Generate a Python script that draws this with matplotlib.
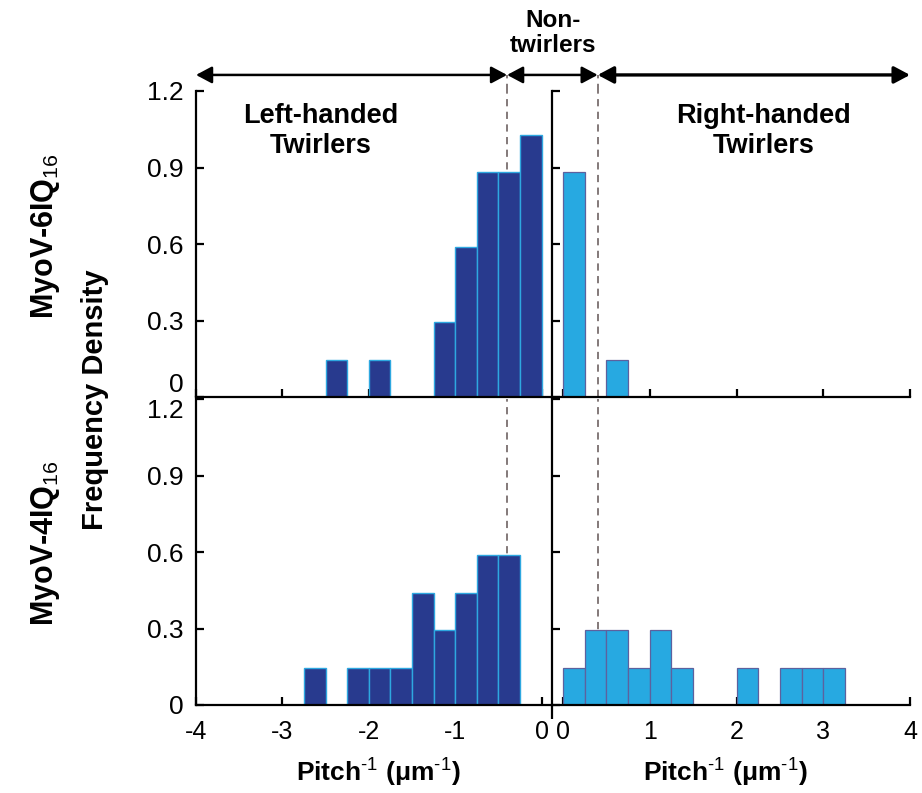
import numpy as np
import matplotlib.pyplot as plt

plt.rcParams['font.family'] = ['Liberation Sans', 'DejaVu Sans']
plt.rcParams['mathtext.fontset'] = 'custom'
plt.rcParams['mathtext.rm'] = 'Liberation Sans'
plt.rcParams['mathtext.bf'] = 'Liberation Sans:bold'

# Data (bin left edges, width 0.25)
bin_w = 0.25
top_left_bins = [-2.5, -2.0, -1.25, -1.0, -0.75, -0.5, -0.25]
top_left_vals = [0.147, 0.147, 0.294, 0.588, 0.882, 0.882, 1.029]
top_right_bins = [0.0, 0.5]
top_right_vals = [0.882, 0.147]
bot_left_bins = [-2.75, -2.25, -2.0, -1.75, -1.5, -1.25, -1.0, -0.75, -0.5]
bot_left_vals = [0.147, 0.147, 0.147, 0.147, 0.441, 0.294, 0.441, 0.588, 0.588]
bot_right_bins = [0.0, 0.25, 0.5, 0.75, 1.0, 1.25, 2.0, 2.5, 2.75, 3.0]
bot_right_vals = [0.147, 0.294, 0.294, 0.147, 0.294, 0.147, 0.147, 0.147, 0.147, 0.147]

yticks = [0, 0.3, 0.6, 0.9, 1.2]
ytick_labels = ["0", "0.3", "0.6", "0.9", "1.2"]
left_xticks = [-4, -3, -2, -1, 0]
right_xticks = [0, 1, 2, 3, 4]
cutoff = 0.4

dark = '#283a8e'
dark_edge = '#2ea8e0'
light = '#27a9e1'
light_edge = '#5d619e'
dash_col = '#7a6e6e'

W, H = 922, 793
fig = plt.figure(figsize=(W / 100, H / 100), dpi=100)

def px_rect(x0, x1, ytop, ybot):
    return [x0 / W, 1 - ybot / H, (x1 - x0) / W, (ybot - ytop) / H]

ax_tl = fig.add_axes(px_rect(196, 552, 91, 397))
ax_tr = fig.add_axes(px_rect(552, 910, 91, 397))
ax_bl = fig.add_axes(px_rect(196, 552, 399, 705))
ax_br = fig.add_axes(px_rect(552, 910, 399, 705))

for ax, side in [(ax_tl, 'L'), (ax_tr, 'R'), (ax_bl, 'L'), (ax_br, 'R')]:
    ax.set_facecolor('none')
    ax.set_ylim(0, 1.2)
    if side == 'L':
        ax.set_xlim(-4, 0.12)
        ax.set_xticks(left_xticks)
        ax.set_xticklabels([str(t) for t in left_xticks])
        ax.set_yticks(yticks)
        ax.set_yticklabels(ytick_labels)
        ax.axvline(-cutoff, color=dash_col, lw=1.3, ls=(0, (4, 3)), zorder=0)
    else:
        ax.set_xlim(-0.127, 4)
        ax.set_xticks(right_xticks)
        ax.set_xticklabels([str(t) for t in right_xticks])
        ax.set_yticks(yticks)
        ax.tick_params(axis='y', labelleft=False)
        ax.axvline(cutoff, color=dash_col, lw=1.3, ls=(0, (4, 3)), zorder=0)
    for s in ['top', 'right']:
        ax.spines[s].set_visible(False)
    for s in ['left', 'bottom']:
        ax.spines[s].set_linewidth(1.6)
    ax.tick_params(direction='in', length=6, width=1.6)
    ax.tick_params(axis='y', pad=9, labelsize=19)
    ax.tick_params(axis='x', pad=11, labelsize=18)

for ax in (ax_tl, ax_tr):
    ax.tick_params(axis='x', labelbottom=False)

# keep the "0" of the top panel and "1.2" of the bottom panel apart
ax_tl.get_yticklabels()[0].set_va('bottom')
ax_bl.get_yticklabels()[-1].set_va('top')

ax_tl.bar(top_left_bins, top_left_vals, width=bin_w, align='edge',
          color=dark, edgecolor=dark_edge, lw=1.0, zorder=2)
ax_tr.bar(top_right_bins, top_right_vals, width=bin_w, align='edge',
          color=light, edgecolor=light_edge, lw=0.9, zorder=2)
ax_bl.bar(bot_left_bins, bot_left_vals, width=bin_w, align='edge',
          color=dark, edgecolor=dark_edge, lw=1.0, zorder=2)
ax_br.bar(bot_right_bins, bot_right_vals, width=bin_w, align='edge',
          color=light, edgecolor=light_edge, lw=0.9, zorder=2)

# divider line runs a little below the bottom axis
ax_br.plot([-0.127, -0.127], [0, -0.055], color='black', lw=1.6,
           clip_on=False, solid_capstyle='butt')

# dashed lines continue up to the arrows
arrow_y = 1.263
ax_tl.plot([-cutoff, -cutoff], [1.2, arrow_y], color=dash_col, lw=1.3,
           ls=(0, (4, 3)), clip_on=False, zorder=0)
ax_tr.plot([cutoff, cutoff], [1.2, arrow_y], color=dash_col, lw=1.3,
           ls=(0, (4, 3)), clip_on=False, zorder=0)

# arrows
astyle = '<|-|>,head_length=0.6,head_width=0.32'
ax_tl.annotate('', xy=(-4, arrow_y), xytext=(-cutoff, arrow_y),
               xycoords='data', textcoords='data', annotation_clip=False,
               arrowprops=dict(arrowstyle=astyle, color='black', lw=1.8,
                               mutation_scale=16, shrinkA=0, shrinkB=0))
ax_tl.annotate('', xy=(cutoff, arrow_y), xycoords=ax_tr.transData,
               xytext=(-cutoff, arrow_y), textcoords=ax_tl.transData,
               annotation_clip=False,
               arrowprops=dict(arrowstyle=astyle, color='black', lw=1.8,
                               mutation_scale=16, shrinkA=0, shrinkB=0))
ax_tr.annotate('', xy=(4, arrow_y), xytext=(cutoff, arrow_y),
               xycoords='data', textcoords='data', annotation_clip=False,
               arrowprops=dict(arrowstyle=astyle, color='black', lw=2.4,
                               mutation_scale=16, shrinkA=0, shrinkB=0))

ax_tl.text(-2.555, 1.045, "Left-handed\nTwirlers", ha='center', va='center',
           fontsize=19.5, fontweight='bold', linespacing=1.2)
ax_tr.text(2.31, 1.045, "Right-handed\nTwirlers", ha='center', va='center',
           fontsize=19.5, fontweight='bold', linespacing=1.2)
fig.text(553 / W, 1 - 33 / H, "Non-\ntwirlers", ha='center', va='center',
         fontsize=17.5, fontweight='bold', linespacing=1.15)

fig.text(45 / W, 1 - 236 / H, r"MyoV-6IQ$_{16}$", rotation=90, ha='center',
         va='center', fontsize=22, fontweight='bold')
fig.text(45 / W, 1 - 543 / H, r"MyoV-4IQ$_{16}$", rotation=90, ha='center',
         va='center', fontsize=22, fontweight='bold')
fig.text(95 / W, 1 - 400 / H, "Frequency Density", rotation=90, ha='center',
         va='center', fontsize=21, fontweight='bold')

xlab = r"Pitch$^{\text{-1}}$ ($\mathbf{\mu}$m$^{\text{-1}}$)"
fig.text(378 / W, 1 - 772 / H, xlab, ha='center', va='center',
         fontsize=19, fontweight='bold')
fig.text(725 / W, 1 - 772 / H, xlab, ha='center', va='center',
         fontsize=19, fontweight='bold')

fig.savefig('out.png', dpi=100)
